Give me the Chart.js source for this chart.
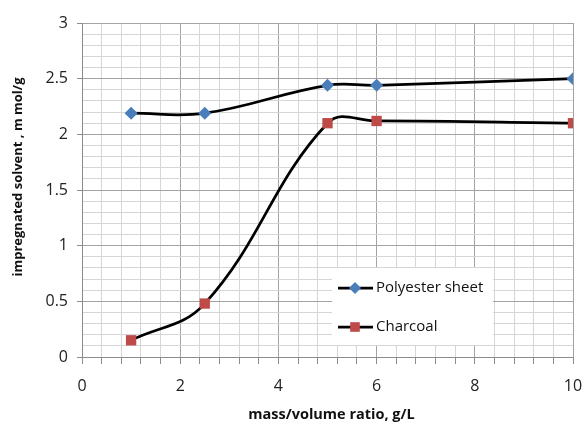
<!DOCTYPE html>
<html>
<head>
<meta charset="utf-8">
<script src="https://cdn.jsdelivr.net/npm/chart.js@4.4.0/dist/chart.umd.min.js"></script>
<style>
  html, body { margin: 0; padding: 0; background: #fff; }
  #wrap { width: 584px; height: 425px; }
</style>
</head>
<body>
<div id="wrap"><canvas id="ratioChart" width="584" height="425"></canvas></div>
<script>
// mass/volume ratio (g/L)
const ratios = [1, 2.5, 5, 6, 10];
// impregnated solvent (m mol/g)
const polyester = [2.19, 2.19, 2.44, 2.44, 2.50];
const charcoal = [0.15, 0.48, 2.10, 2.12, 2.10];
const seriesNames = ['Polyester sheet', 'Charcoal'];
const xTitle = 'mass/volume ratio, g/L';
const yTitle = 'impregnated solvent , m mol/g';

const toPoints = ys => ys.map((y, i) => ({ x: ratios[i], y }));
const isMultiple = (v, step) => Math.abs(v / step - Math.round(v / step)) < 1e-6;

const FONT = "'Open Sans', 'Liberation Sans', sans-serif";

// axis titles drawn at fixed offsets from the plot area
const axisTitles = {
    id: 'axisTitles',
    afterDraw(chart) {
        const { ctx, chartArea } = chart;
        ctx.save();
        ctx.fillStyle = '#111';
        ctx.textAlign = 'center';
        ctx.textBaseline = 'middle';
        ctx.font = "bold 14.5px " + FONT;
        ctx.fillText(xTitle, (chartArea.left + chartArea.right) / 2 + 4, chartArea.bottom + 58);
        ctx.font = "bold 13px " + FONT;
        ctx.translate(18, (chartArea.top + chartArea.bottom) / 2 - 13);
        ctx.rotate(-Math.PI / 2);
        ctx.fillText(yTitle, 0, 0);
        ctx.restore();
    }
};

// boxed legend sitting inside the plot, lower right
const insetLegend = {
    id: 'insetLegend',
    afterDatasetsDraw(chart) {
        const { ctx, chartArea } = chart;
        const left = chartArea.left + 250, top = chartArea.top + 245;
        ctx.save();
        ctx.fillStyle = '#fff';
        ctx.fillRect(left, top, 161, 77);
        chart.data.datasets.forEach((ds, i) => {
            const y = top + 20 + i * 39;
            ctx.strokeStyle = ds.borderColor;
            ctx.lineWidth = ds.borderWidth;
            ctx.beginPath();
            ctx.moveTo(left + 6, y);
            ctx.lineTo(left + 41, y);
            ctx.stroke();
            ctx.fillStyle = ds.pointBackgroundColor;
            Chart.helpers.drawPoint(ctx, {
                pointStyle: ds.pointStyle, radius: ds.pointRadius - 0.5, rotation: 0, borderWidth: 0
            }, left + 23, y);
            ctx.fillStyle = '#111';
            ctx.font = "15px " + FONT;
            ctx.textAlign = 'left';
            ctx.textBaseline = 'middle';
            ctx.fillText(ds.label, left + 44, y);
        });
        ctx.restore();
    }
};

new Chart(document.getElementById('ratioChart'), {
    type: 'line',
    data: {
        datasets: [{
            label: seriesNames[0],
            data: toPoints(polyester),
            borderColor: '#000',
            borderWidth: 2.75,
            pointStyle: 'rectRot',
            pointRadius: 6.5,
            pointBackgroundColor: '#4a7ebb',
            pointBorderColor: '#4a7ebb',
            pointBorderWidth: 0,
            tension: 0.4
        }, {
            label: seriesNames[1],
            data: toPoints(charcoal),
            borderColor: '#000',
            borderWidth: 2.75,
            pointStyle: 'rect',
            pointRadius: 7.3,
            pointBackgroundColor: '#be4b48',
            pointBorderColor: '#be4b48',
            pointBorderWidth: 0,
            tension: 0.4
        }]
    },
    options: {
        responsive: false,
        animation: false,
        layout: { padding: { top: 23, right: 11, left: 0, bottom: 0 } },
        plugins: {
            legend: { display: false },
            tooltip: { enabled: false }
        },
        scales: {
            x: {
                type: 'linear',
                min: 0,
                max: 10,
                afterFit: s => { s.height = 68; s.paddingLeft = 0; s.paddingRight = 0; },
                border: { color: '#8c8c8c', width: 1 },
                grid: {
                    color: c => isMultiple(c.tick.value, 2) ? '#a3a3a3' : '#d6d6d6',
                    tickColor: '#8c8c8c',
                    tickLength: 7
                },
                ticks: {
                    stepSize: 0.4,
                    autoSkip: false,
                    maxRotation: 0,
                    padding: 13,
                    color: '#222',
                    font: { family: FONT, size: 16 },
                    callback: v => isMultiple(v, 2) ? String(Math.round(v)) : ''
                }
            },
            y: {
                min: 0,
                max: 3,
                afterFit: s => { s.width = 82; },
                border: { color: '#8c8c8c', width: 1 },
                grid: {
                    color: c => isMultiple(c.tick.value, 0.5) ? '#a3a3a3' : '#d6d6d6',
                    tickColor: c => isMultiple(c.tick.value, 0.5) ? '#8c8c8c' : 'rgba(0,0,0,0)',
                    tickLength: 5
                },
                ticks: {
                    stepSize: 0.1,
                    autoSkip: false,
                    padding: 9,
                    color: '#222',
                    font: { family: FONT, size: 16 },
                    callback: v => isMultiple(v, 0.5) ? String(Math.round(v * 10) / 10) : ''
                }
            }
        }
    },
    plugins: [axisTitles, insetLegend]
});
</script>
</body>
</html>
